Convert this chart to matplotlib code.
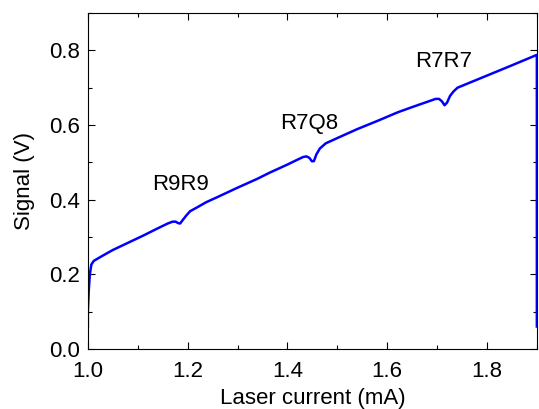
import matplotlib
matplotlib.use('Agg')
import matplotlib.pyplot as plt
from matplotlib.ticker import MultipleLocator

plt.rcParams['font.family'] = ['Liberation Sans', 'DejaVu Sans']

# laser current sweep (mA) and detector signal (V)
current = [1.000, 1.000, 1.002, 1.004, 1.007, 1.012, 1.030, 1.050, 1.080,
           1.110, 1.140, 1.160, 1.170, 1.176, 1.181, 1.185, 1.190, 1.197,
           1.205, 1.220, 1.237, 1.260, 1.300, 1.340, 1.364, 1.400, 1.420,
           1.431, 1.438, 1.444, 1.449, 1.453, 1.458, 1.465, 1.477, 1.500,
           1.540, 1.584, 1.621, 1.650, 1.680, 1.697, 1.704, 1.710, 1.715,
           1.720, 1.726, 1.733, 1.741, 1.770, 1.810, 1.850, 1.900, 1.900]
signal = [0.060, 0.100, 0.160, 0.200, 0.226, 0.236, 0.250, 0.265, 0.284,
          0.303, 0.323, 0.336, 0.341, 0.341, 0.337, 0.336, 0.345, 0.357,
          0.369, 0.380, 0.393, 0.407, 0.432, 0.456, 0.472, 0.494, 0.507,
          0.514, 0.516, 0.512, 0.503, 0.503, 0.521, 0.537, 0.551, 0.565,
          0.589, 0.613, 0.634, 0.648, 0.662, 0.670, 0.670, 0.663, 0.653,
          0.660, 0.678, 0.690, 0.700, 0.716, 0.738, 0.760, 0.788, 0.060]

peak_labels = ['R9R9', 'R7Q8', 'R7R7']
peak_x = [1.186, 1.444, 1.714]
peak_y = [0.44, 0.603, 0.771]

fig = plt.figure(figsize=(5.39, 4.09), dpi=100)
ax = fig.add_axes([0.163, 0.147, 0.833, 0.821])

ax.plot(current, signal, color=(0, 0, 1), lw=1.8)

for lab, x, y in zip(peak_labels, peak_x, peak_y):
    ax.text(x, y, lab, fontsize=16, ha='center', va='center')

ax.set_xlim(1.0, 1.9)
ax.set_ylim(0.0, 0.9)
ax.xaxis.set_major_locator(MultipleLocator(0.2))
ax.xaxis.set_minor_locator(MultipleLocator(0.1))
ax.yaxis.set_major_locator(MultipleLocator(0.2))
ax.yaxis.set_minor_locator(MultipleLocator(0.1))
ax.tick_params(which='both', direction='in', top=True, right=True,
               labelsize=16, width=0.8)
ax.tick_params(which='major', length=5)
ax.tick_params(which='minor', length=3)
ax.tick_params(axis='x', pad=9)
ax.tick_params(axis='y', pad=6)
ax.xaxis.set_major_formatter(plt.FuncFormatter(lambda v, p: '%.1f' % v))
ax.yaxis.set_major_formatter(plt.FuncFormatter(lambda v, p: '%.1f' % v))
for s in ax.spines.values():
    s.set_linewidth(0.8)

ax.set_xlabel('Laser current (mA)', fontsize=16, labelpad=4)
ax.set_ylabel('Signal (V)', fontsize=16, labelpad=10)

fig.savefig('out.png', dpi=100)
